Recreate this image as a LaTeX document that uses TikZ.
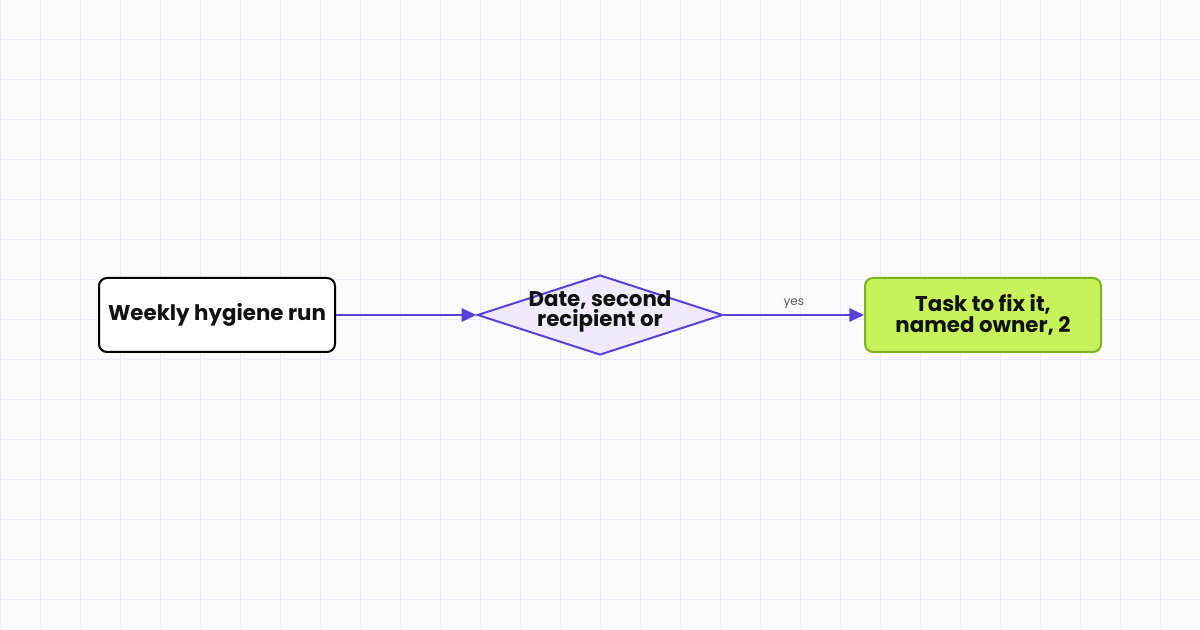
\documentclass[tikz,border=0pt]{standalone}
\usepackage{fontspec}
\setmainfont{Poppins}
\usetikzlibrary{shapes.geometric,arrows.meta}
\definecolor{bg}{HTML}{FAFAFD}
\definecolor{gridc}{HTML}{ECEAF8}
\definecolor{purp}{HTML}{5B3FD9}
\definecolor{dfill}{HTML}{EFEBFB}
\definecolor{gfill}{HTML}{C8F25A}
\definecolor{gline}{HTML}{7FB020}
\definecolor{txt}{HTML}{111111}
\begin{document}
\begin{tikzpicture}[x=0.75pt,y=-0.75pt,
  box/.style={draw,line width=1.5pt,rounded corners=6pt,minimum width=177pt,minimum height=55.5pt,inner sep=2pt,align=center,font=\fontsize{16}{16}\selectfont\bfseries,text=txt},
  arr/.style={draw=purp,line width=1.5pt,-{Triangle[length=11pt,width=10pt]}}]
\fill[bg] (0,0) rectangle (1200,630);
\useasboundingbox (0,0) rectangle (1200,630);
\foreach \i in {0,40,...,1200} \draw[gridc,line width=0.75pt] (\i,0) -- (\i,630);
\foreach \j in {0,40,...,600} \draw[gridc,line width=0.75pt] (0,\j) -- (1200,\j);
\node[box,fill=white,draw=black] (a) at (217,315) {Weekly hygiene run};
\node[diamond,draw=purp,fill=dfill,line width=1.5pt,minimum width=184pt,minimum height=60pt,inner sep=0pt,align=center,font=\fontsize{16}{15}\selectfont\bfseries,text=txt] (b) at (600,315) {};
\node[align=center,font=\fontsize{16}{15}\selectfont\bfseries,text=txt] at (600,311) {Date, second\\recipient or};
\node[box,fill=gfill,draw=gline] (c) at (983,315) {Task to fix it,\\named owner, 2};
\draw[arr] (a) -- (b);
\draw[arr] (b) -- node[above,font=\fontsize{9}{9}\selectfont,text=black!65,yshift=1pt] (y) {yes} (c);
\end{tikzpicture}
\end{document}
